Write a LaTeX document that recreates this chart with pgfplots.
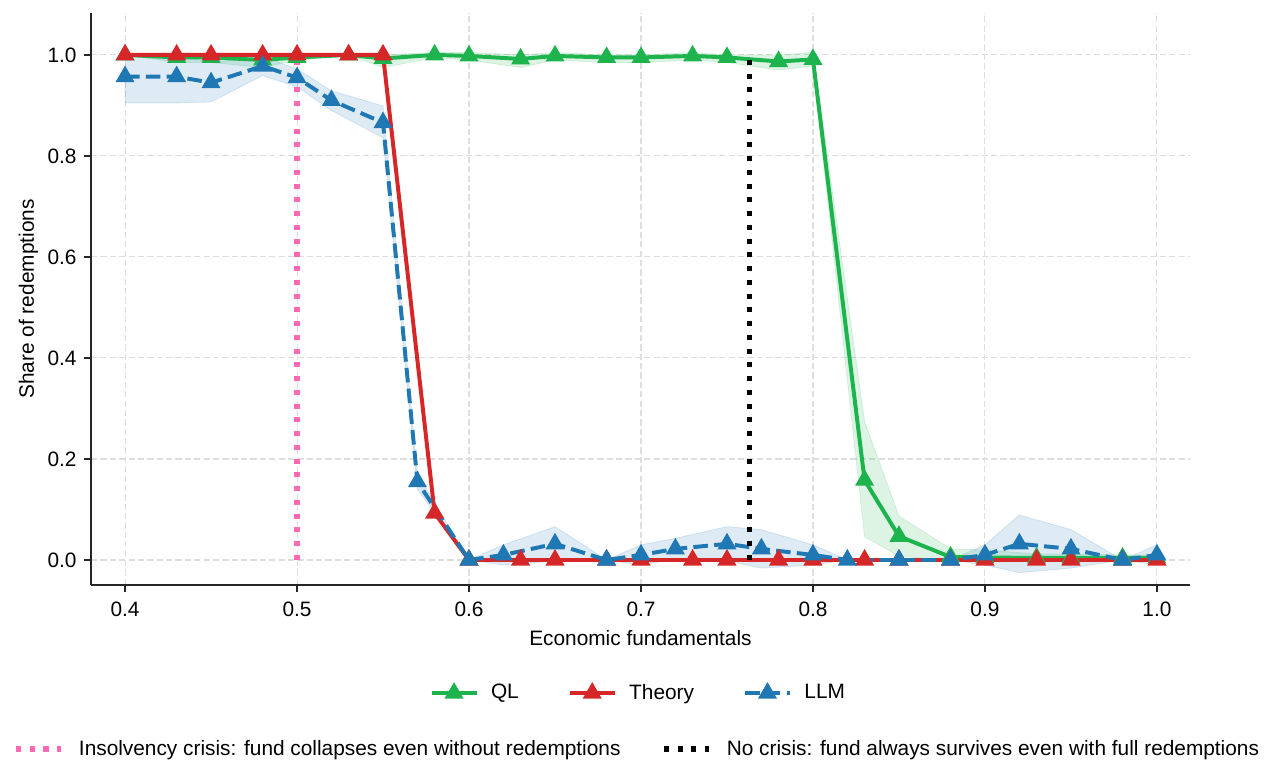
\documentclass[border=0pt]{standalone}
\usepackage{fontspec}
\setmainfont{Liberation Sans}
\usepackage{pgfplots}
\pgfplotsset{compat=1.18}
\definecolor{qlgreen}{RGB}{29,180,78}
\definecolor{thred}{RGB}{214,39,40}
\definecolor{llmblue}{RGB}{31,119,180}
\definecolor{pinkline}{RGB}{255,105,180}
\pgfplotsset{
  mylegend/.style={
    legend image code/.code={\draw[mark repeat=2,mark phase=2,##1] plot coordinates {(0pt,0pt) (10.8pt,0pt) (21.6pt,0pt)};},
    legend cell align=left,
  },
  common/.style={
    scale only axis, width=527.5pt, height=274.6pt,
    xmin=0.3802, xmax=1.0192, ymin=-0.0495, ymax=1.0832,
  },
}
\begin{document}
\begin{tikzpicture}
\begin{axis}[common, mylegend,
  axis x line*=bottom, axis y line*=left,
  axis line style={-, line width=0.6pt, black!85},
  tick align=outside, major tick length=3.4pt,
  tick style={line width=0.6pt, black!85},
  xtick={0.4,0.5,0.6,0.7,0.8,0.9,1.0},
  ytick={0,0.2,0.4,0.6,0.8,1.0},
  /pgf/number format/.cd, fixed, fixed zerofill, precision=1, assume math mode=true,
  /pgfplots/.cd,
  grid=major, grid style={dash pattern=on 3pt off 1.5pt, line width=0.5pt, black!13},
  tick label style={font=\fontsize{10}{12}\selectfont},
  label style={font=\fontsize{10}{12}\selectfont},
  xticklabel shift=1pt,
  ylabel shift=-2.4pt,
  xlabel={Economic fundamentals}, ylabel={Share of redemptions},
  legend style={at={(0.499,-0.189)}, anchor=center, draw=none, fill=none,
    legend columns=3, font=\fontsize{10}{12}\selectfont,
    /tikz/every odd column/.append style={column sep=4pt},
    /tikz/every even column/.append style={column sep=21.5pt}},
]
% QL band
\addplot[fill=qlgreen, fill opacity=0.15, draw=qlgreen, draw opacity=0.15, forget plot] coordinates {
(0.4,1.0) (0.43,1.0) (0.45,1.0) (0.48,1.0) (0.5,1.0) (0.53,1.0) (0.55,1.0) (0.58,1.005) (0.6,1.005) (0.63,1.0) (0.65,1.005) (0.68,1.0) (0.7,1.0) (0.73,1.005) (0.75,1.0) (0.78,1.0) (0.8,1.005) (0.83,0.274) (0.85,0.087) (0.88,0.022) (0.9,0.02) (0.93,0.012) (0.95,0.012) (0.98,0.01) (1.0,0.01)
(1.0,-0.002) (0.98,-0.002) (0.95,-0.002) (0.93,-0.002) (0.9,-0.002) (0.88,-0.002) (0.85,0.008) (0.83,0.046) (0.8,0.978) (0.78,0.97) (0.75,0.985) (0.73,0.99) (0.7,0.985) (0.68,0.985) (0.65,0.99) (0.63,0.975) (0.6,0.99) (0.58,0.995) (0.55,0.975) (0.53,1.0) (0.5,0.99) (0.48,0.975) (0.45,0.985) (0.43,0.985) (0.4,1.0)
} -- cycle;
% LLM band
\addplot[fill=llmblue, fill opacity=0.15, draw=llmblue, draw opacity=0.15, forget plot] coordinates {
(0.4,1.0) (0.43,1.0) (0.45,0.985) (0.48,0.997) (0.5,0.972) (0.52,0.929) (0.55,0.899) (0.57,0.17) (0.6,0) (0.62,0.03) (0.65,0.066) (0.68,0) (0.7,0.03) (0.72,0.043) (0.75,0.066) (0.77,0.06) (0.8,0.03) (0.82,0) (0.85,0) (0.88,0) (0.9,0.03) (0.92,0.089) (0.95,0.06) (0.98,0) (1.0,0.03)
(1.0,-0.01) (0.98,0) (0.95,-0.016) (0.92,-0.025) (0.9,-0.01) (0.88,0) (0.85,0) (0.82,0) (0.8,-0.01) (0.77,-0.016) (0.75,-0.002) (0.72,0.002) (0.7,-0.01) (0.68,0) (0.65,-0.002) (0.62,-0.01) (0.6,0) (0.57,0.14) (0.55,0.836) (0.52,0.89) (0.5,0.937) (0.48,0.959) (0.45,0.907) (0.43,0.905) (0.4,0.905)
} -- cycle;
% QL
\addplot[qlgreen, line width=1.9pt, mark=triangle*, mark size=3.4pt] coordinates {
(0.4,1.0) (0.43,0.995) (0.45,0.995) (0.48,0.99) (0.5,0.995) (0.53,1.0) (0.55,0.993) (0.58,1.0) (0.6,0.998) (0.63,0.992) (0.65,0.998) (0.68,0.995) (0.7,0.995) (0.73,0.998) (0.75,0.995) (0.78,0.987) (0.8,0.991) (0.83,0.158) (0.85,0.047) (0.88,0.006) (0.9,0.005) (0.93,0.004) (0.95,0.004) (0.98,0.004) (1.0,0.004)
};
\addlegendentry{QL}
% Theory
\addplot[thred, line width=1.9pt, mark=triangle*, mark size=3.4pt] coordinates {
(0.4,1) (0.43,1) (0.45,1) (0.48,1) (0.5,1) (0.53,1) (0.55,1) (0.58,0.093) (0.6,0) (0.63,0) (0.65,0) (0.68,0) (0.7,0) (0.73,0) (0.75,0) (0.78,0) (0.8,0) (0.83,0) (0.85,0) (0.88,0) (0.9,0) (0.93,0) (0.95,0) (0.98,0) (1.0,0)
};
\addlegendentry{Theory}
% LLM
\addplot[llmblue, line width=1.9pt, dash pattern=on 7pt off 3pt, mark=triangle*, mark size=3.4pt, mark options={solid}] coordinates {
(0.4,0.957) (0.43,0.957) (0.45,0.945) (0.48,0.978) (0.5,0.955) (0.52,0.91) (0.55,0.866) (0.57,0.155) (0.6,0) (0.62,0.01) (0.65,0.032) (0.68,0) (0.7,0.01) (0.72,0.022) (0.75,0.032) (0.77,0.022) (0.8,0.01) (0.82,0) (0.85,0) (0.88,0) (0.9,0.01) (0.92,0.032) (0.95,0.022) (0.98,0) (1.0,0.01)
};
\addlegendentry{LLM}
% vertical reference lines
\addplot[pinkline, line width=2.5pt, dash pattern=on 2.5pt off 4.1pt, forget plot] coordinates {(0.5,0) (0.5,1)};
\addplot[black, line width=2.5pt, dash pattern=on 2.5pt off 4.1pt, forget plot] coordinates {(0.7632,0) (0.7632,1)};
\end{axis}
\begin{axis}[common, mylegend, hide axis,
  legend style={at={(0.498,-0.2867)}, anchor=center, draw=none, fill=none,
    legend columns=2, font=\fontsize{10}{12}\selectfont,
    /tikz/every odd column/.append style={column sep=5.4pt},
    /tikz/every even column/.append style={column sep=17.5pt}},
]
\addlegendimage{pinkline, line width=2.5pt, dash pattern=on 2.5pt off 4.1pt}
\addlegendentry{Insolvency crisis: fund collapses even without redemptions}
\addlegendimage{black, line width=2.5pt, dash pattern=on 2.5pt off 4.1pt}
\addlegendentry{No crisis: fund always survives even with full redemptions}
\addplot[draw=none, forget plot] coordinates {(0.5,0.5)};
\end{axis}
\pgfresetboundingbox
\path (-43.68pt,-95.52pt) rectangle (570.72pt,280.8pt);
\end{tikzpicture}
\end{document}
